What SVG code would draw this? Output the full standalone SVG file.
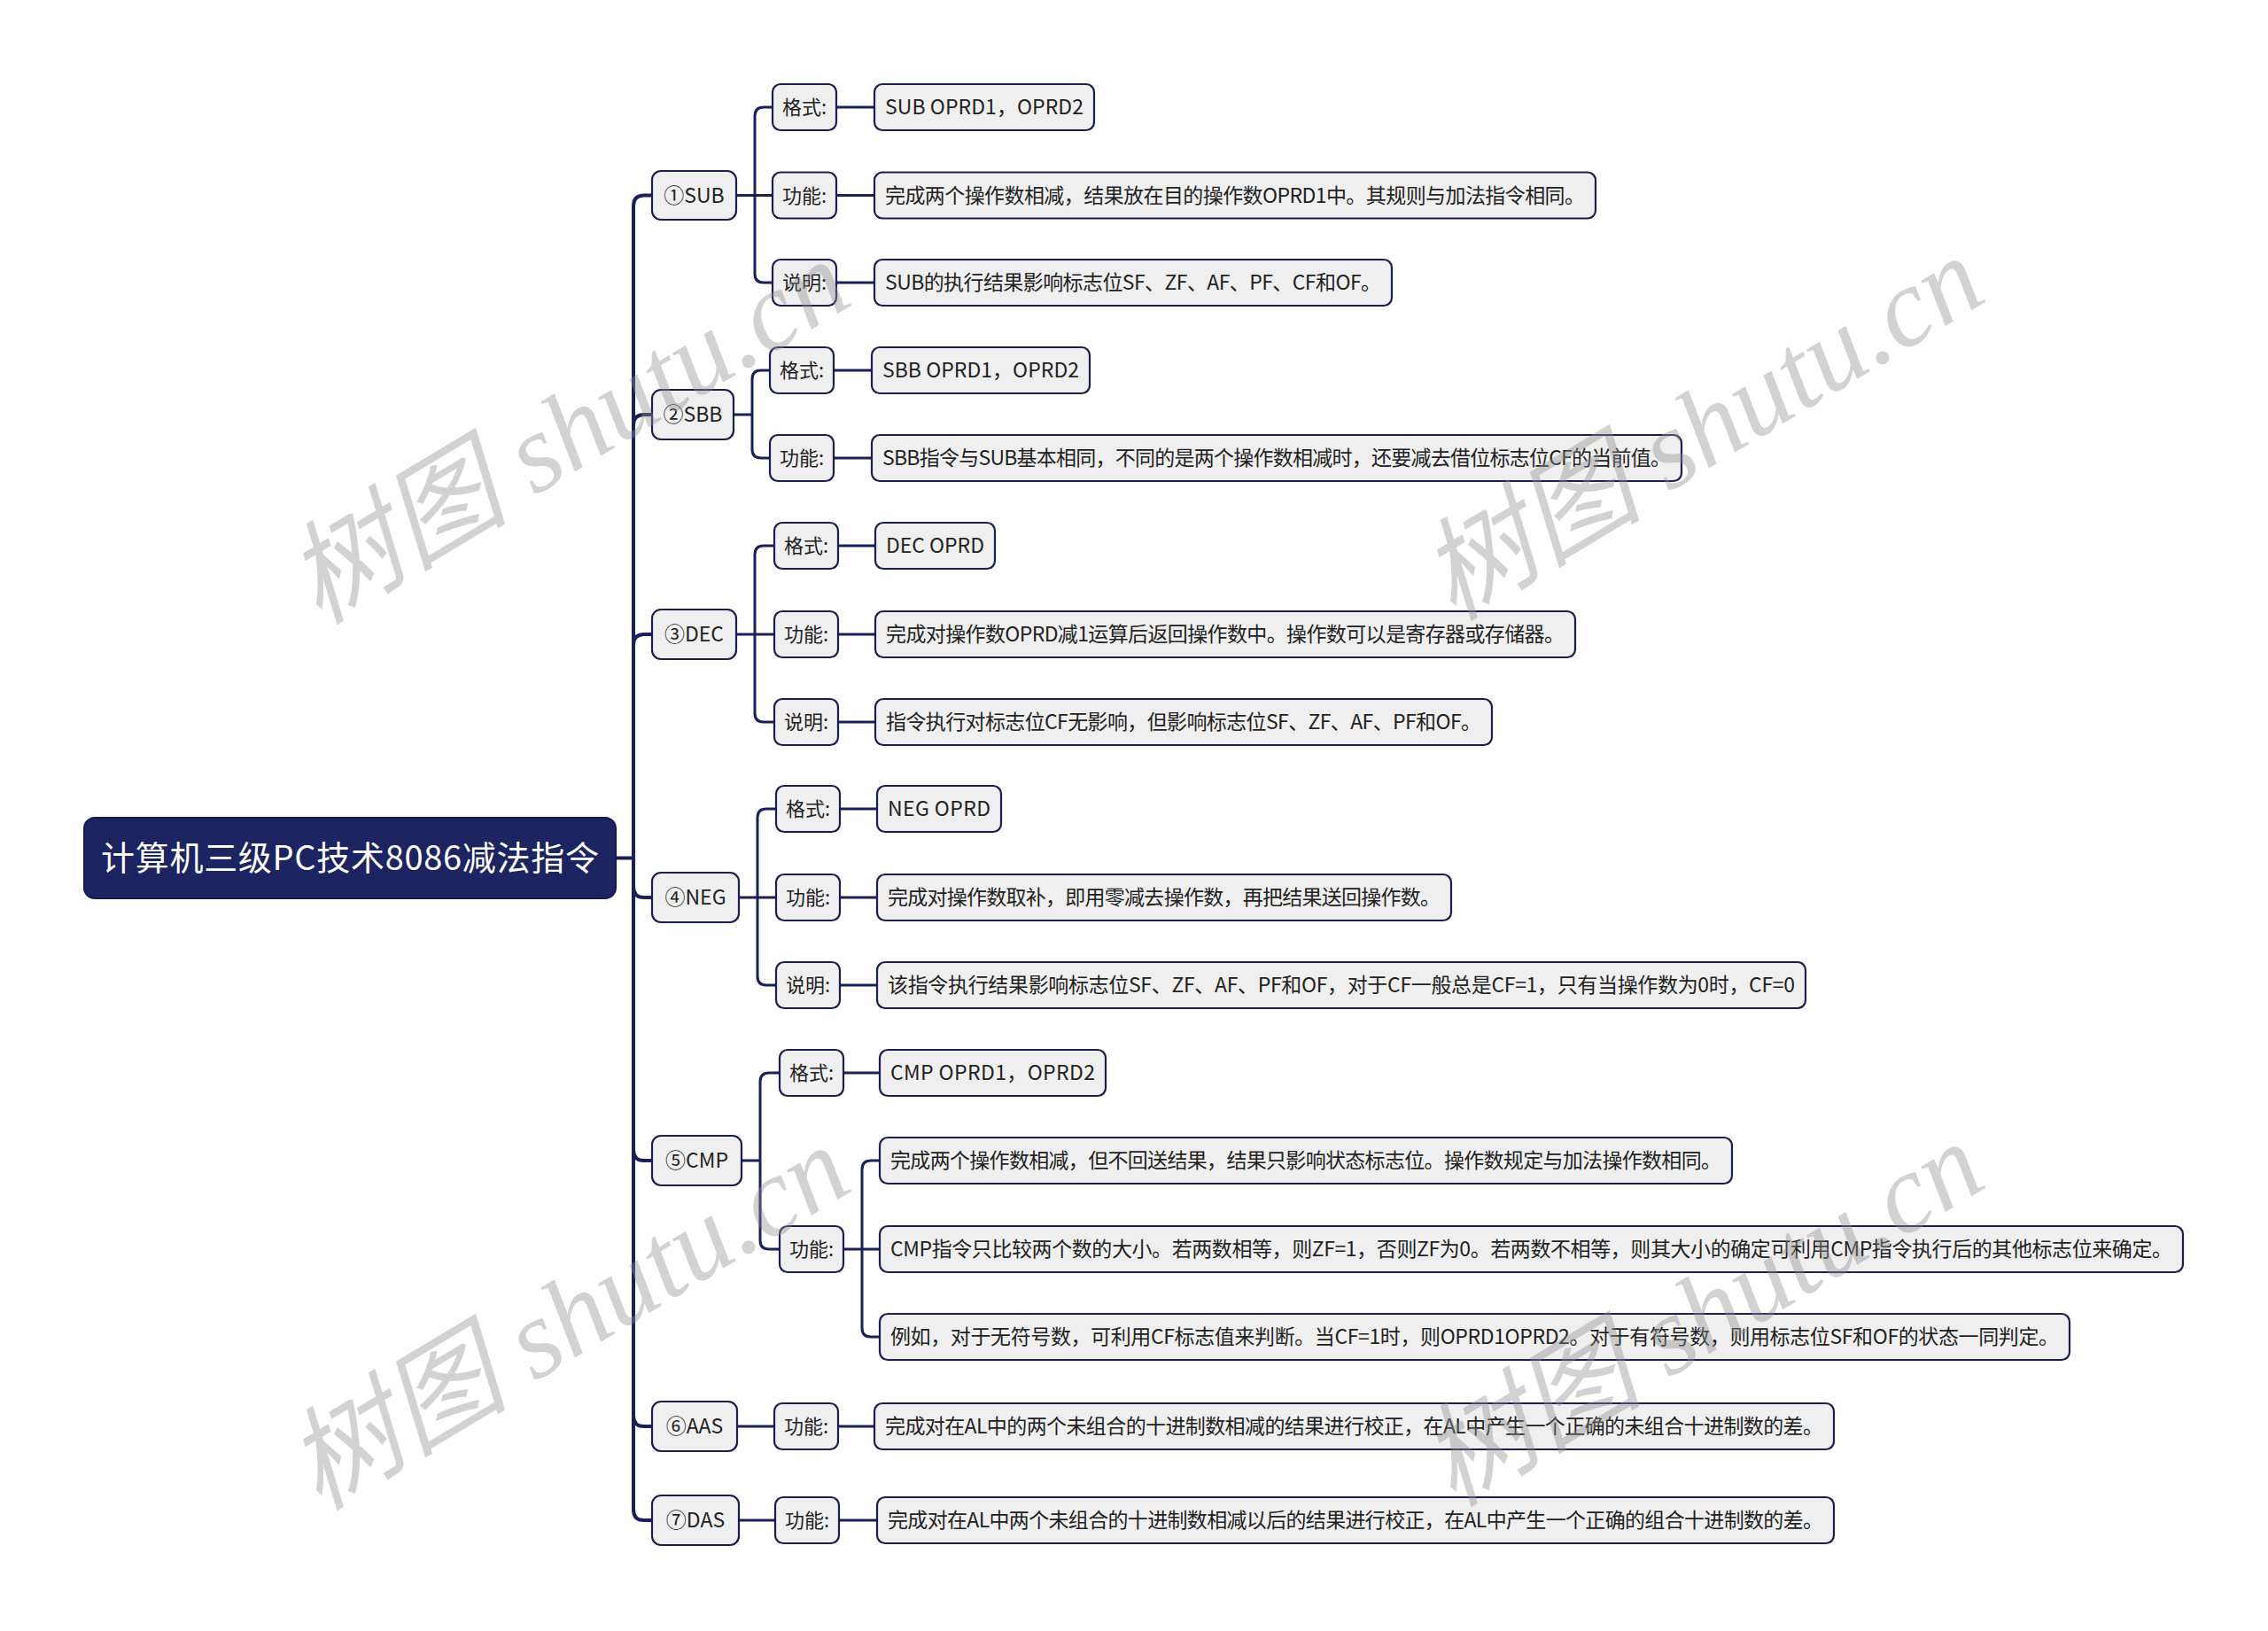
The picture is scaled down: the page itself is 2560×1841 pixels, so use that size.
<svg xmlns="http://www.w3.org/2000/svg" width="2560" height="1841" viewBox="0 0 2560 1841">
<style>
text{font-family:"Noto Sans CJK SC","Noto Sans",sans-serif;fill:#222;}
.wm{font-family:"Liberation Serif","Noto Sans CJK SC",serif;font-style:italic;font-size:126px;fill:#8f8f8f;fill-opacity:0.4;}
.root rect{fill:#1c2462;stroke:#151b4d;stroke-width:2;}
.root text{fill:#fff;font-size:38px;}
.n rect{fill:#efefef;stroke:#1a1f4f;stroke-width:2.2;}
.l1 text{font-size:23px;text-anchor:middle;}
.l2 text{font-size:22px;text-anchor:middle;}
.c text{font-size:23px;}
.conn path{fill:none;stroke:#1a2158;stroke-width:3;}
.conn .t{stroke-width:4;}
</style>
<rect width="2560" height="1841" fill="#fff"/>
<g id="connectors" class="conn">
<path class="t" d="M695 968.5H715"/>
<path class="t" d="M715 968.5V232.5Q715 220.5 727 220.5H736"/>
<path class="t" d="M715 968.5V480Q715 468 727 468H736"/>
<path class="t" d="M715 968.5V728Q715 716 727 716H736"/>
<path class="t" d="M715 968.5V1001Q715 1013 727 1013H736"/>
<path class="t" d="M715 968.5V1298Q715 1310 727 1310H736"/>
<path class="t" d="M715 968.5V1598Q715 1610 727 1610H736"/>
<path class="t" d="M715 968.5V1704Q715 1716 727 1716H736"/>
<path d="M831 220.5H852"/>
<path d="M852 220.5V131Q852 121 862 121H872"/>
<path d="M852 220.5H872"/>
<path d="M852 220.5V309Q852 319 862 319H872"/>
<path d="M828 468H849"/>
<path d="M849 468V428Q849 418 859 418H869"/>
<path d="M849 468V507Q849 517 859 517H869"/>
<path d="M831 716H852"/>
<path d="M852 716V626Q852 616 862 616H874"/>
<path d="M852 716H874"/>
<path d="M852 716V805Q852 815 862 815H874"/>
<path d="M834 1013H855"/>
<path d="M855 1013V923Q855 913 865 913H876"/>
<path d="M855 1013H876"/>
<path d="M855 1013V1102Q855 1112 865 1112H876"/>
<path d="M837 1310H858"/>
<path d="M858 1310V1221Q858 1211 868 1211H880"/>
<path d="M858 1310V1400Q858 1410 868 1410H880"/>
<path d="M832 1610H874"/>
<path d="M834 1716H875"/>
<path d="M944 121H987"/>
<path d="M944 220.5H987"/>
<path d="M944 319H987"/>
<path d="M941 418H984"/>
<path d="M941 517H984"/>
<path d="M946 616H988"/>
<path d="M946 716H988"/>
<path d="M946 815H988"/>
<path d="M948 913H990"/>
<path d="M948 1013H990"/>
<path d="M948 1112H990"/>
<path d="M952 1211H993"/>
<path d="M952 1410H973"/>
<path d="M973 1410V1320Q973 1310 983 1310H993"/>
<path d="M973 1410H993"/>
<path d="M973 1410V1499Q973 1509 983 1509H993"/>
<path d="M946 1610H987"/>
<path d="M947 1716H990"/>
</g>
<g id="root" class="root"><rect x="95" y="923" width="600" height="91" rx="12"/><text x="395" y="982" text-anchor="middle" textLength="562">计算机三级PC技术8086减法指令</text></g>
<g id="sub" class="n l1"><rect x="736" y="193" width="95" height="55" rx="10"/><text x="783.5" y="228.5">①SUB</text></g>
<g id="sbb" class="n l1"><rect x="736" y="440" width="92" height="56" rx="10"/><text x="782" y="476">②SBB</text></g>
<g id="dec" class="n l1"><rect x="736" y="688" width="95" height="56" rx="10"/><text x="783.5" y="724">③DEC</text></g>
<g id="neg" class="n l1"><rect x="736" y="985" width="98" height="56" rx="10"/><text x="785" y="1021">④NEG</text></g>
<g id="cmp" class="n l1"><rect x="736" y="1282" width="101" height="56" rx="10"/><text x="786.5" y="1318">⑤CMP</text></g>
<g id="aas" class="n l1"><rect x="736" y="1582" width="96" height="56" rx="10"/><text x="784" y="1618">⑥AAS</text></g>
<g id="das" class="n l1"><rect x="736" y="1688" width="98" height="56" rx="10"/><text x="785" y="1724">⑦DAS</text></g>
<g id="sub-fmt" class="n l2"><rect x="872" y="95" width="72" height="52" rx="9"/><text x="908" y="129">格式:</text></g>
<g id="sub-fn" class="n l2"><rect x="872" y="194.5" width="72" height="52" rx="9"/><text x="908" y="228.5">功能:</text></g>
<g id="sub-note" class="n l2"><rect x="872" y="293" width="72" height="52" rx="9"/><text x="908" y="327">说明:</text></g>
<g id="sbb-fmt" class="n l2"><rect x="869" y="392" width="72" height="52" rx="9"/><text x="905" y="426">格式:</text></g>
<g id="sbb-fn" class="n l2"><rect x="869" y="491" width="72" height="52" rx="9"/><text x="905" y="525">功能:</text></g>
<g id="dec-fmt" class="n l2"><rect x="874" y="590" width="72" height="52" rx="9"/><text x="910" y="624">格式:</text></g>
<g id="dec-fn" class="n l2"><rect x="874" y="690" width="72" height="52" rx="9"/><text x="910" y="724">功能:</text></g>
<g id="dec-note" class="n l2"><rect x="874" y="789" width="72" height="52" rx="9"/><text x="910" y="823">说明:</text></g>
<g id="neg-fmt" class="n l2"><rect x="876" y="887" width="72" height="52" rx="9"/><text x="912" y="921">格式:</text></g>
<g id="neg-fn" class="n l2"><rect x="876" y="987" width="72" height="52" rx="9"/><text x="912" y="1021">功能:</text></g>
<g id="neg-note" class="n l2"><rect x="876" y="1086" width="72" height="52" rx="9"/><text x="912" y="1120">说明:</text></g>
<g id="cmp-fmt" class="n l2"><rect x="880" y="1185" width="72" height="52" rx="9"/><text x="916" y="1219">格式:</text></g>
<g id="cmp-fn" class="n l2"><rect x="880" y="1384" width="72" height="52" rx="9"/><text x="916" y="1418">功能:</text></g>
<g id="aas-fn" class="n l2"><rect x="874" y="1584" width="72" height="52" rx="9"/><text x="910" y="1618">功能:</text></g>
<g id="das-fn" class="n l2"><rect x="875" y="1690" width="72" height="52" rx="9"/><text x="911" y="1724">功能:</text></g>
<g id="sub-fmt-c" class="n c"><rect x="987" y="95" width="248" height="52" rx="9"/><text x="999" y="129" textLength="224">SUB OPRD1，OPRD2</text></g>
<g id="sub-fn-c" class="n c"><rect x="987" y="194.5" width="814" height="52" rx="9"/><text x="999" y="228.5" textLength="790">完成两个操作数相减，结果放在目的操作数OPRD1中。其规则与加法指令相同。</text></g>
<g id="sub-note-c" class="n c"><rect x="987" y="293" width="584" height="52" rx="9"/><text x="999" y="327" textLength="560">SUB的执行结果影响标志位SF、ZF、AF、PF、CF和OF。</text></g>
<g id="sbb-fmt-c" class="n c"><rect x="984" y="392" width="246" height="52" rx="9"/><text x="996" y="426" textLength="222">SBB OPRD1，OPRD2</text></g>
<g id="sbb-fn-c" class="n c"><rect x="984" y="491" width="914" height="52" rx="9"/><text x="996" y="525" textLength="890">SBB指令与SUB基本相同，不同的是两个操作数相减时，还要减去借位标志位CF的当前值。</text></g>
<g id="dec-fmt-c" class="n c"><rect x="988" y="590" width="135" height="52" rx="9"/><text x="1000" y="624" textLength="111">DEC OPRD</text></g>
<g id="dec-fn-c" class="n c"><rect x="988" y="690" width="790" height="52" rx="9"/><text x="1000" y="724" textLength="766">完成对操作数OPRD减1运算后返回操作数中。操作数可以是寄存器或存储器。</text></g>
<g id="dec-note-c" class="n c"><rect x="988" y="789" width="696" height="52" rx="9"/><text x="1000" y="823" textLength="672">指令执行对标志位CF无影响，但影响标志位SF、ZF、AF、PF和OF。</text></g>
<g id="neg-fmt-c" class="n c"><rect x="990" y="887" width="140" height="52" rx="9"/><text x="1002" y="921" textLength="116">NEG OPRD</text></g>
<g id="neg-fn-c" class="n c"><rect x="990" y="987" width="648" height="52" rx="9"/><text x="1002" y="1021" textLength="624">完成对操作数取补，即用零减去操作数，再把结果送回操作数。</text></g>
<g id="neg-note-c" class="n c"><rect x="990" y="1086" width="1048" height="52" rx="9"/><text x="1002" y="1120" textLength="1024">该指令执行结果影响标志位SF、ZF、AF、PF和OF，对于CF一般总是CF=1，只有当操作数为0时，CF=0</text></g>
<g id="cmp-fmt-c" class="n c"><rect x="993" y="1185" width="255" height="52" rx="9"/><text x="1005" y="1219" textLength="231">CMP OPRD1，OPRD2</text></g>
<g id="cmp-fn-c1" class="n c"><rect x="993" y="1284" width="962" height="52" rx="9"/><text x="1005" y="1318" textLength="938">完成两个操作数相减，但不回送结果，结果只影响状态标志位。操作数规定与加法操作数相同。</text></g>
<g id="cmp-fn-c2" class="n c"><rect x="993" y="1384" width="1471" height="52" rx="9"/><text x="1005" y="1418" textLength="1447">CMP指令只比较两个数的大小。若两数相等，则ZF=1，否则ZF为0。若两数不相等，则其大小的确定可利用CMP指令执行后的其他标志位来确定。</text></g>
<g id="cmp-fn-c3" class="n c"><rect x="993" y="1483" width="1343" height="52" rx="9"/><text x="1005" y="1517" textLength="1319">例如，对于无符号数，可利用CF标志值来判断。当CF=1时，则OPRD1OPRD2。对于有符号数，则用标志位SF和OF的状态一同判定。</text></g>
<g id="aas-fn-c" class="n c"><rect x="987" y="1584" width="1083" height="52" rx="9"/><text x="999" y="1618" textLength="1059">完成对在AL中的两个未组合的十进制数相减的结果进行校正，在AL中产生一个正确的未组合十进制数的差。</text></g>
<g id="das-fn-c" class="n c"><rect x="990" y="1690" width="1080" height="52" rx="9"/><text x="1002" y="1724" textLength="1056">完成对在AL中两个未组合的十进制数相减以后的结果进行校正，在AL中产生一个正确的组合十进制数的差。</text></g>
<g id="watermarks">
<text class="wm" x="360" y="706" transform="rotate(-31 360 706)">树图 shutu.cn</text>
<text class="wm" x="1640" y="702" transform="rotate(-31 1640 702)">树图 shutu.cn</text>
<text class="wm" x="360" y="1706" transform="rotate(-31 360 1706)">树图 shutu.cn</text>
<text class="wm" x="1640" y="1702" transform="rotate(-31 1640 1702)">树图 shutu.cn</text>
</g>
</svg>
